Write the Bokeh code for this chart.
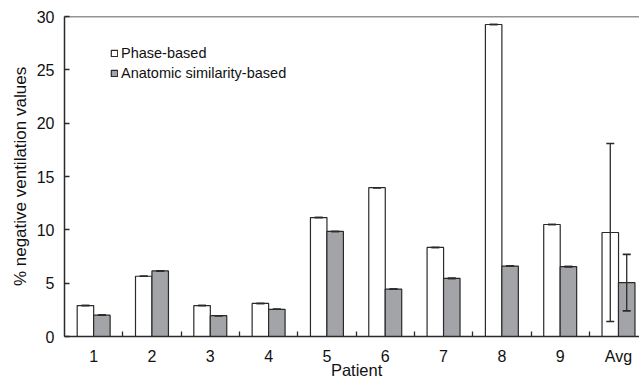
from bokeh.plotting import figure
from bokeh.models import (ColumnDataSource, Range1d, FixedTicker, Whisker, TeeHead,
                          Legend, LegendItem, Span)
from bokeh.embed import file_html
from bokeh.resources import INLINE

# ---- data ----
categories = ["1", "2", "3", "4", "5", "6", "7", "8", "9", "Avg"]
phase_based = [2.9, 5.65, 2.9, 3.1, 11.15, 13.95, 8.35, 29.25, 10.5, 9.75]
anatomic_based = [2.0, 6.15, 1.95, 2.55, 9.85, 4.45, 5.45, 6.6, 6.55, 5.05]
phase_err = [0, 0, 0, 0, 0, 0, 0, 0, 0, 8.35]
anatomic_err = [0, 0, 0, 0, 0, 0, 0, 0, 0, 2.65]

FONT = "Liberation Sans"
GRAY = "#a3a4a8"
EDGE = "#2a2a2a"
bar_w = 0.283
off = 0.141

xs = list(range(1, len(categories) + 1))
src = ColumnDataSource(dict(
    x1=[x - off for x in xs], x2=[x + off for x in xs],
    p=phase_based, a=anatomic_based,
    p_up=[v + e for v, e in zip(phase_based, phase_err)],
    p_lo=[v - e for v, e in zip(phase_based, phase_err)],
    a_up=[v + e for v, e in zip(anatomic_based, anatomic_err)],
    a_lo=[v - e for v, e in zip(anatomic_based, anatomic_err)],
))

p = figure(width=639, height=381, output_backend="svg", toolbar_location=None,
           x_range=Range1d(0.5, 10.36), y_range=Range1d(0, 30),
           min_border_left=64, min_border_right=0, min_border_top=16, min_border_bottom=45)
p.outline_line_color = None
p.grid.visible = False
p.background_fill_color = "white"

r1 = p.vbar(x="x1", top="p", width=bar_w, source=src, fill_color="white",
            line_color=EDGE, line_width=1.2)
r2 = p.vbar(x="x2", top="a", width=bar_w, source=src, fill_color=GRAY,
            line_color=EDGE, line_width=1.2)

for base, up, lo in (("x1", "p_up", "p_lo"), ("x2", "a_up", "a_lo")):
    w = Whisker(base=base, upper=up, lower=lo, source=src, line_color=EDGE, line_width=1.3,
                level="overlay",
                upper_head=TeeHead(size=8, line_color=EDGE, line_width=1.6),
                lower_head=TeeHead(size=8, line_color=EDGE, line_width=1.6))
    p.add_layout(w)

# top frame line
p.add_layout(Span(location=30, dimension="width", line_color=EDGE, line_width=1.5))

# x axis
xa = p.xaxis[0]
xa.ticker = FixedTicker(ticks=xs, minor_ticks=[x + 0.5 for x in xs[:-1]])
xa.major_label_overrides = {x: c for x, c in zip(xs, categories)}
xa.major_tick_in = 0
xa.major_tick_out = 0
xa.minor_tick_in = 5
xa.minor_tick_out = 0
xa.minor_tick_line_color = EDGE
xa.minor_tick_line_width = 1.3
xa.axis_line_color = EDGE
xa.axis_line_width = 1.5
xa.major_label_text_font = FONT
xa.major_label_text_font_size = "16px"
xa.major_label_text_color = "#111111"
xa.major_label_standoff = 11
xa.axis_label = "\u00a0\u00a0Patient"
xa.axis_label_text_font = FONT
xa.axis_label_text_font_size = "16.5px"
xa.axis_label_text_font_style = "normal"
xa.axis_label_text_color = "#111111"
xa.axis_label_standoff = -7

# y axis
ya = p.yaxis[0]
ya.ticker = FixedTicker(ticks=[0, 5, 10, 15, 20, 25, 30])
ya.minor_tick_line_color = None
ya.major_tick_in = 5
ya.major_tick_out = 0
ya.major_tick_line_color = EDGE
ya.major_tick_line_width = 1.3
ya.axis_line_color = EDGE
ya.axis_line_width = 1.5
ya.major_label_text_font = FONT
ya.major_label_text_font_size = "16px"
ya.major_label_text_color = "#111111"
ya.major_label_standoff = 10
ya.axis_label = "% negative ventilation values"
ya.axis_label_text_font = FONT
ya.axis_label_text_font_size = "17px"
ya.axis_label_text_font_style = "normal"
ya.axis_label_text_color = "#111111"
ya.axis_label_standoff = 4

legend = Legend(items=[LegendItem(label="Phase-based", renderers=[r1]),
                       LegendItem(label="Anatomic similarity-based", renderers=[r2])],
                location=(46, 255), orientation="vertical")
legend.glyph_width = 8
legend.glyph_height = 8
legend.label_height = 14
legend.label_standoff = 3
legend.spacing = 4
legend.padding = 0
legend.margin = 0
legend.border_line_color = None
legend.background_fill_alpha = 0
legend.label_text_font = FONT
legend.label_text_font_size = "14.5px"
legend.label_text_color = "#111111"
p.add_layout(legend)

open("out.html", "w").write(file_html(p, INLINE))
